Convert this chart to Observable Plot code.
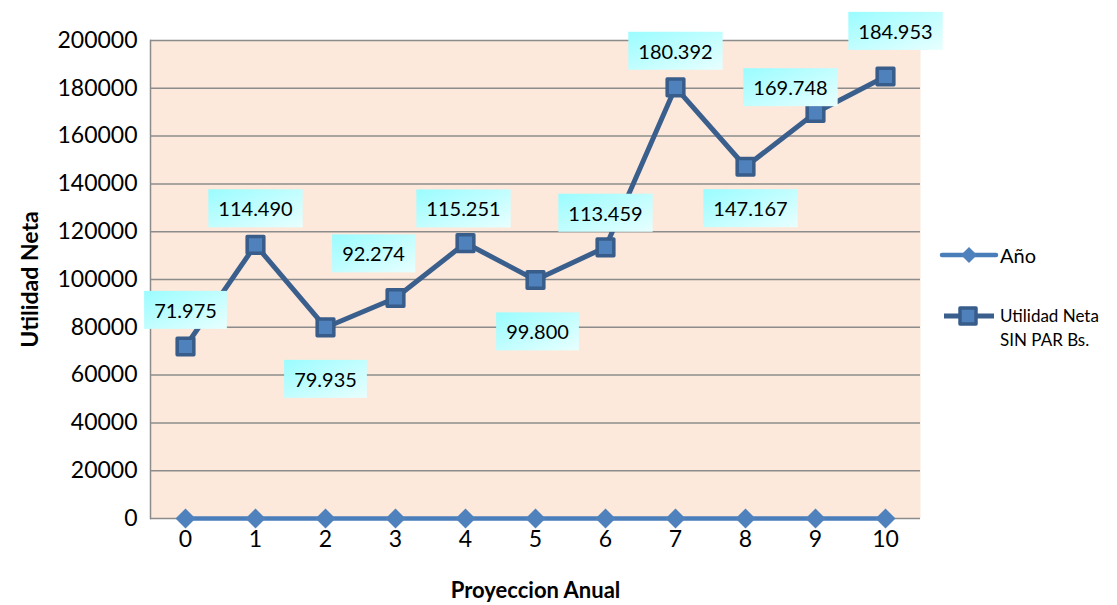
<!DOCTYPE html>
<html>
<head>
<meta charset="utf-8">
<script src="https://cdn.jsdelivr.net/npm/d3@7"></script>
<script src="https://cdn.jsdelivr.net/npm/@observablehq/plot@0.6"></script>
<style>
  html, body { margin: 0; padding: 0; background: #fff; }
  #wrap { position: relative; width: 1117px; height: 605px; font-family: Lato, "Open Sans", sans-serif; }
  #legend { position: absolute; left: 938px; top: 243px; color: #000; }
  .li { display: flex; align-items: flex-start; }
  .li svg { flex: none; }
  svg [aria-label$="axis label"] text, svg [aria-label$="axis label"] { font-weight: bold; }
  svg [aria-label="x-axis label"] text, svg [aria-label="x-axis label"] { font-size: 22px; }
</style>
</head>
<body>
<div id="wrap">
  <div id="chart"></div>
  <div id="legend"></div>
</div>
<script>
// ---- data ----
const years = [0, 1, 2, 3, 4, 5, 6, 7, 8, 9, 10];
const anio = [0, 1, 2, 3, 4, 5, 6, 7, 8, 9, 10];
const utilidad = [71975, 114490, 79935, 92274, 115251, 99800, 113459, 180392, 147167, 169748, 184953];
const seriesNames = ["Año", "Utilidad Neta SIN PAR Bs."];
const yTicks = [0, 20000, 40000, 60000, 80000, 100000, 120000, 140000, 160000, 180000, 200000];
// label placement offsets (px) relative to each point
const labelDx = [0, 0, 0, -22, -2, 2, 0, 0, 5, -25, 10];
const labelDy = [-35, -35, 53, -43, -33, 53, -33, -35, 43, -24, -44];

const esFmt = d3.formatLocale({decimal: ",", thousands: ".", grouping: [3], currency: ["", ""]}).format(",d");

const rowsAnio = years.map((y, i) => ({year: y, value: anio[i]}));
const rowsUtil = years.map((y, i) => ({year: y, value: utilidad[i], label: esFmt(utilidad[i]), dx: labelDx[i], dy: labelDy[i]}));

const labelMarks = rowsUtil.map(r => Plot.text([r], {
  x: "year", y: "value", text: "label", dx: r.dx, dy: r.dy,
  fontSize: 20, fill: "#000", textAnchor: "middle", lineAnchor: "middle"
}));

const chart = Plot.plot({
  width: 1117,
  height: 605,
  marginLeft: 150,
  marginRight: 197,
  marginTop: 40,
  marginBottom: 87,
  style: {fontFamily: "Lato, 'Open Sans', sans-serif", fontSize: "23px", color: "#000", background: "transparent", overflow: "visible"},
  x: {type: "point", domain: years, padding: 0.5, tickSize: 0, tickPadding: 12, label: "Proyeccion Anual", labelAnchor: "center", labelOffset: 79, labelArrow: "none"},
  y: {domain: [0, 200000], ticks: yTicks, tickFormat: d3.format("d"), tickSize: 0, tickPadding: 13, label: "Utilidad Neta", labelAnchor: "center", labelOffset: 129, labelArrow: "none"},
  marks: [
    Plot.frame({fill: "#fce9db", stroke: null}),
    Plot.ruleY(yTicks, {stroke: "#8c8c8c", strokeWidth: 1.5}),
    Plot.frame({anchor: "left", stroke: "#8c8c8c", strokeWidth: 1.5}),
    Plot.line(rowsAnio, {x: "year", y: "value", stroke: "#4a7ebb", strokeWidth: 4.5}),
    Plot.dot(rowsAnio, {x: "year", y: "value", symbol: "diamond2", r: 9, fill: "#4f81bd", stroke: "none"}),
    Plot.line(rowsUtil, {x: "year", y: "value", stroke: "#3b5f8d", strokeWidth: 5}),
    Plot.dot(rowsUtil, {x: "year", y: "value", symbol: "square", r: 9.4, fill: "#4f81bd", stroke: "#385d8a", strokeWidth: 3.5, strokeLinejoin: "round"}),
    ...labelMarks
  ]
});
document.getElementById("chart").appendChild(chart);

// remove any axis-label arrows
chart.querySelectorAll("text").forEach(t => {
  if (/[→↑]/.test(t.textContent)) t.textContent = t.textContent.replace(/\s*[→↑]\s*/g, "");
});

// gradient + boxes behind data labels
const ns = "http://www.w3.org/2000/svg";
const defs = document.createElementNS(ns, "defs");
defs.innerHTML = '<linearGradient id="lblGrad" x1="0" y1="0" x2="1" y2="1"><stop offset="0" stop-color="#9afcff"/><stop offset="1" stop-color="#e8ffff"/></linearGradient>';
chart.insertBefore(defs, chart.firstChild);
const labelSet = new Set(rowsUtil.map(r => r.label));
chart.querySelectorAll('g[aria-label="text"] text').forEach(t => {
  if (!labelSet.has(t.textContent)) return;
  const b = t.getBBox();
  const r = document.createElementNS(ns, "rect");
  const px = 10, py = 7;
  r.setAttribute("x", b.x - px);
  r.setAttribute("y", b.y - py);
  r.setAttribute("width", b.width + 2 * px);
  r.setAttribute("height", b.height + 2 * py);
  r.setAttribute("fill", "url(#lblGrad)");
  if (t.getAttribute("transform")) r.setAttribute("transform", t.getAttribute("transform"));
  t.parentNode.insertBefore(r, t);
});

// legend
const legend = document.getElementById("legend");
legend.innerHTML =
  '<div class="li" style="font-size:20px;line-height:24px;">' +
    '<svg width="62" height="24"><line x1="4" x2="58" y1="12" y2="12" stroke="#4a7ebb" stroke-width="4.5" stroke-linecap="round"/>' +
    '<path d="M31,4 L39,12 L31,20 L23,12Z" fill="#4f81bd"/></svg>' +
    '<span>' + seriesNames[0] + '</span></div>' +
  '<div class="li" style="font-size:17px;line-height:24px;margin-top:37px;">' +
    '<svg width="62" height="24"><line x1="6" x2="56" y1="12" y2="12" stroke="#3b5f8d" stroke-width="5"/>' +
    '<rect x="22" y="4" width="16" height="16" fill="#4f81bd" stroke="#385d8a" stroke-width="3.5" stroke-linejoin="round"/></svg>' +
    '<span>Utilidad Neta<br>SIN PAR Bs.</span></div>';
</script>
</body>
</html>
